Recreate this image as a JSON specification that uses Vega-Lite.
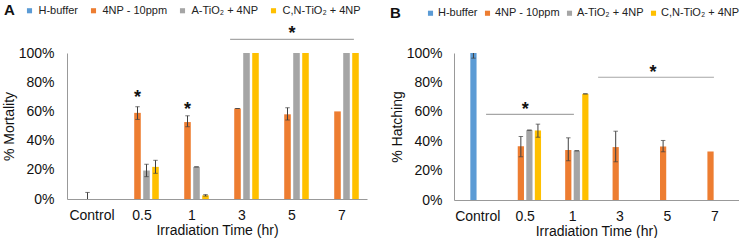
{
  "$schema": "https://vega.github.io/schema/vega-lite/v6.json",
  "padding": {"left": 2, "top": 5, "right": 0, "bottom": 0},
  "config": {
    "view": {"stroke": null},
    "font": "Liberation Sans",
    "axis": {"domainColor": "#999999", "domainWidth": 1, "ticks": false, "tickSize": 0, "grid": false, "labelOverlap": false, "labelFont": "Liberation Sans", "labelFontSize": 14, "labelColor": "#111111", "titleFont": "Liberation Sans", "titleFontSize": 14, "titleFontWeight": "normal", "titleColor": "#111111"},
    "axisY": {"labelOverlap": false},
    "legend": {"orient": "none", "direction": "horizontal", "symbolType": "square", "symbolSize": 26, "symbolStrokeWidth": 0, "labelFont": "Liberation Sans", "labelFontSize": 11, "labelColor": "#222222", "titleFont": "Liberation Sans", "titleFontSize": 15, "titleFontWeight": "bold", "titleColor": "#111111", "titleOrient": "left", "padding": 0}
  },
  "datasets": {
    "mortality": [
      {"time": "Control", "series": "H-buffer", "value": 0, "lo": 0, "hi": 0.045},
      {"time": "0.5", "series": "4NP - 10ppm", "value": 0.59, "lo": 0.545, "hi": 0.632},
      {"time": "0.5", "series": "A-TiO₂ + 4NP", "value": 0.195, "lo": 0.153, "hi": 0.238},
      {"time": "0.5", "series": "C,N-TiO₂ + 4NP", "value": 0.22, "lo": 0.176, "hi": 0.265},
      {"time": "1", "series": "4NP - 10ppm", "value": 0.527, "lo": 0.495, "hi": 0.57},
      {"time": "1", "series": "A-TiO₂ + 4NP", "value": 0.22, "lo": 0.22, "hi": 0.22},
      {"time": "1", "series": "C,N-TiO₂ + 4NP", "value": 0.025, "lo": 0.02, "hi": 0.03},
      {"time": "3", "series": "4NP - 10ppm", "value": 0.62, "lo": 0.62, "hi": 0.62},
      {"time": "3", "series": "A-TiO₂ + 4NP", "value": 1},
      {"time": "3", "series": "C,N-TiO₂ + 4NP", "value": 1},
      {"time": "5", "series": "4NP - 10ppm", "value": 0.58, "lo": 0.541, "hi": 0.625},
      {"time": "5", "series": "A-TiO₂ + 4NP", "value": 1},
      {"time": "5", "series": "C,N-TiO₂ + 4NP", "value": 1},
      {"time": "7", "series": "4NP - 10ppm", "value": 0.6},
      {"time": "7", "series": "A-TiO₂ + 4NP", "value": 1},
      {"time": "7", "series": "C,N-TiO₂ + 4NP", "value": 1}
    ],
    "hatching": [
      {"time": "Control", "series": "H-buffer", "value": 1, "lo": 0.965, "hi": 1},
      {"time": "0.5", "series": "4NP - 10ppm", "value": 0.365, "lo": 0.294, "hi": 0.432},
      {"time": "0.5", "series": "A-TiO₂ + 4NP", "value": 0.475, "lo": 0.475, "hi": 0.475},
      {"time": "0.5", "series": "C,N-TiO₂ + 4NP", "value": 0.473, "lo": 0.427, "hi": 0.516},
      {"time": "1", "series": "4NP - 10ppm", "value": 0.34, "lo": 0.267, "hi": 0.423},
      {"time": "1", "series": "A-TiO₂ + 4NP", "value": 0.335, "lo": 0.335, "hi": 0.335},
      {"time": "1", "series": "C,N-TiO₂ + 4NP", "value": 0.722, "lo": 0.722, "hi": 0.722},
      {"time": "3", "series": "4NP - 10ppm", "value": 0.36, "lo": 0.26, "hi": 0.468},
      {"time": "5", "series": "4NP - 10ppm", "value": 0.364, "lo": 0.328, "hi": 0.405},
      {"time": "7", "series": "4NP - 10ppm", "value": 0.33}
    ]
  },
  "spacing": 23,
  "resolve": {"scale": {"x": "independent", "y": "independent", "xOffset": "independent", "color": "shared"}, "legend": {"color": "independent"}},
  "hconcat": [
    {
      "width": 300,
      "height": 146,
      "data": {"name": "mortality"},
      "encoding": {
        "x": {"field": "time", "type": "nominal", "title": "Irradiation Time (hr)", "scale": {"domain": ["Control", "0.5", "1", "3", "5", "7"], "paddingInner": 0.28, "paddingOuter": 0.14}, "axis": {"labelAngle": 0, "labelPadding": 9, "titlePadding": 1}}
      },
      "layer": [
        {
          "transform": [{"filter": "datum.series !== 'H-buffer'"}],
          "encoding": {"xOffset": {"field": "series", "type": "nominal", "scale": {"domain": ["H-buffer", "4NP - 10ppm", "A-TiO₂ + 4NP", "C,N-TiO₂ + 4NP"], "paddingInner": 0.27, "paddingOuter": 0.135}}},
          "layer": [
            {"mark": {"type": "bar"}, "encoding": {
              "y": {"field": "value", "type": "quantitative", "title": "% Mortality", "scale": {"domain": [0, 1], "nice": false}, "axis": {"format": ".0%", "values": [0, 0.2, 0.4, 0.6, 0.8, 1], "labelOverlap": false, "labelPadding": 13, "titlePadding": 2}},
              "color": {"field": "series", "type": "nominal", "scale": {"domain": ["H-buffer", "4NP - 10ppm", "A-TiO₂ + 4NP", "C,N-TiO₂ + 4NP"], "range": ["#5B9BD5", "#ED7D31", "#A5A5A5", "#FFC000"]}, "legend": {"title": "A", "legendX": -63, "legendY": -48, "columnPadding": 9, "titlePadding": 9, "labelOffset": 3.5}}}},
            {"mark": {"type": "rule", "color": "#404040", "strokeWidth": 1}, "encoding": {"y": {"field": "lo", "type": "quantitative", "title": "% Mortality", "scale": {"domain": [0, 1], "nice": false}, "axis": {"format": ".0%", "values": [0, 0.2, 0.4, 0.6, 0.8, 1], "labelOverlap": false, "labelPadding": 13, "titlePadding": 2}}, "y2": {"field": "hi"}}},
            {"mark": {"type": "tick", "color": "#404040", "thickness": 1, "size": 4.5}, "encoding": {"y": {"field": "hi", "type": "quantitative", "title": "% Mortality", "scale": {"domain": [0, 1], "nice": false}, "axis": {"format": ".0%", "values": [0, 0.2, 0.4, 0.6, 0.8, 1], "labelOverlap": false, "labelPadding": 13, "titlePadding": 2}}}},
            {"mark": {"type": "tick", "color": "#404040", "thickness": 1, "size": 4.5}, "encoding": {"y": {"field": "lo", "type": "quantitative", "title": "% Mortality", "scale": {"domain": [0, 1], "nice": false}, "axis": {"format": ".0%", "values": [0, 0.2, 0.4, 0.6, 0.8, 1], "labelOverlap": false, "labelPadding": 13, "titlePadding": 2}}}}
          ]
        },
        {
          "transform": [{"filter": "datum.series === 'H-buffer'"}],
          "encoding": {"xOffset": {"datum": "4NP - 10ppm"}},
          "layer": [
            {"mark": {"type": "bar"}, "encoding": {
              "y": {"field": "value", "type": "quantitative", "title": "% Mortality", "scale": {"domain": [0, 1], "nice": false}, "axis": {"format": ".0%", "values": [0, 0.2, 0.4, 0.6, 0.8, 1], "labelOverlap": false, "labelPadding": 13, "titlePadding": 2}},
              "color": {"field": "series", "type": "nominal", "scale": {"domain": ["H-buffer", "4NP - 10ppm", "A-TiO₂ + 4NP", "C,N-TiO₂ + 4NP"], "range": ["#5B9BD5", "#ED7D31", "#A5A5A5", "#FFC000"]}, "legend": {"title": "A", "legendX": -63, "legendY": -48, "columnPadding": 9, "titlePadding": 9, "labelOffset": 3.5}}}},
            {"mark": {"type": "rule", "color": "#404040", "strokeWidth": 1}, "encoding": {"y": {"field": "lo", "type": "quantitative", "title": "% Mortality", "scale": {"domain": [0, 1], "nice": false}, "axis": {"format": ".0%", "values": [0, 0.2, 0.4, 0.6, 0.8, 1], "labelOverlap": false, "labelPadding": 13, "titlePadding": 2}}, "y2": {"field": "hi"}}},
            {"mark": {"type": "tick", "color": "#404040", "thickness": 1, "size": 4.5}, "encoding": {"y": {"field": "hi", "type": "quantitative", "title": "% Mortality", "scale": {"domain": [0, 1], "nice": false}, "axis": {"format": ".0%", "values": [0, 0.2, 0.4, 0.6, 0.8, 1], "labelOverlap": false, "labelPadding": 13, "titlePadding": 2}}}}
          ]
        },
        {
          "data": {"values": [{"time": "0.5", "series": "4NP - 10ppm", "y": 0.66, "label": "*"}, {"time": "1", "series": "4NP - 10ppm", "y": 0.578, "label": "*"}]},
          "mark": {"type": "text", "fontSize": 18, "fontWeight": "bold", "baseline": "alphabetic", "color": "#111111"},
          "encoding": {
            "xOffset": {"field": "series", "type": "nominal", "scale": {"domain": ["H-buffer", "4NP - 10ppm", "A-TiO₂ + 4NP", "C,N-TiO₂ + 4NP"]}},
            "y": {"field": "y", "type": "quantitative", "title": "% Mortality", "scale": {"domain": [0, 1], "nice": false}, "axis": {"format": ".0%", "values": [0, 0.2, 0.4, 0.6, 0.8, 1], "labelOverlap": false, "labelPadding": 13, "titlePadding": 2}},
            "text": {"field": "label"}
          }
        },
        {
          "data": {"values": [{"time": "5", "y": 1.099, "label": "*"}]},
          "mark": {"type": "text", "fontSize": 18, "fontWeight": "bold", "baseline": "alphabetic", "color": "#111111"},
          "encoding": {
            "y": {"field": "y", "type": "quantitative", "title": "% Mortality", "scale": {"domain": [0, 1], "nice": false}, "axis": {"format": ".0%", "values": [0, 0.2, 0.4, 0.6, 0.8, 1], "labelOverlap": false, "labelPadding": 13, "titlePadding": 2}},
            "text": {"field": "label"}
          }
        },
        {
          "data": {"values": [{"from": "3", "to": "7", "y": 1.094}]},
          "mark": {"type": "rule", "color": "#A6A6A6", "strokeWidth": 1.2},
          "encoding": {
            "x": {"field": "from", "type": "nominal", "title": "Irradiation Time (hr)", "bandPosition": 0.17, "scale": {"domain": ["Control", "0.5", "1", "3", "5", "7"]}, "axis": {"labelAngle": 0, "labelPadding": 9, "titlePadding": 1}},
            "x2": {"field": "to", "bandPosition": 0.83},
            "y": {"field": "y", "type": "quantitative", "title": "% Mortality", "scale": {"domain": [0, 1], "nice": false}, "axis": {"format": ".0%", "values": [0, 0.2, 0.4, 0.6, 0.8, 1], "labelOverlap": false, "labelPadding": 13, "titlePadding": 2}}
          }
        }
      ]
    },
    {
      "width": 284.5,
      "height": 147,
      "data": {"name": "hatching"},
      "encoding": {
        "x": {"field": "time", "type": "nominal", "title": "Irradiation Time (hr)", "scale": {"domain": ["Control", "0.5", "1", "3", "5", "7"], "paddingInner": 0.28, "paddingOuter": 0.14}, "axis": {"labelAngle": 0, "labelPadding": 9, "titlePadding": 1}}
      },
      "layer": [
        {
          "transform": [{"filter": "datum.series !== 'H-buffer'"}],
          "encoding": {"xOffset": {"field": "series", "type": "nominal", "scale": {"domain": ["H-buffer", "4NP - 10ppm", "A-TiO₂ + 4NP", "C,N-TiO₂ + 4NP"], "paddingInner": 0.27, "paddingOuter": 0.135}}},
          "layer": [
            {"mark": {"type": "bar"}, "encoding": {
              "y": {"field": "value", "type": "quantitative", "title": "% Hatching", "scale": {"domain": [0, 1], "nice": false}, "axis": {"format": ".0%", "values": [0, 0.2, 0.4, 0.6, 0.8, 1], "labelOverlap": false, "labelPadding": 12, "titlePadding": 2}},
              "color": {"field": "series", "type": "nominal", "scale": {"domain": ["H-buffer", "4NP - 10ppm", "A-TiO₂ + 4NP", "C,N-TiO₂ + 4NP"], "range": ["#5B9BD5", "#ED7D31", "#A5A5A5", "#FFC000"]}, "legend": {"title": "B", "legendX": -64, "legendY": -45.5, "columnPadding": 4, "titlePadding": 24, "labelOffset": 2}}}},
            {"mark": {"type": "rule", "color": "#404040", "strokeWidth": 1}, "encoding": {"y": {"field": "lo", "type": "quantitative", "title": "% Hatching", "scale": {"domain": [0, 1], "nice": false}, "axis": {"format": ".0%", "values": [0, 0.2, 0.4, 0.6, 0.8, 1], "labelOverlap": false, "labelPadding": 12, "titlePadding": 2}}, "y2": {"field": "hi"}}},
            {"mark": {"type": "tick", "color": "#404040", "thickness": 1, "size": 4.5}, "encoding": {"y": {"field": "hi", "type": "quantitative", "title": "% Hatching", "scale": {"domain": [0, 1], "nice": false}, "axis": {"format": ".0%", "values": [0, 0.2, 0.4, 0.6, 0.8, 1], "labelOverlap": false, "labelPadding": 12, "titlePadding": 2}}}},
            {"mark": {"type": "tick", "color": "#404040", "thickness": 1, "size": 4.5}, "encoding": {"y": {"field": "lo", "type": "quantitative", "title": "% Hatching", "scale": {"domain": [0, 1], "nice": false}, "axis": {"format": ".0%", "values": [0, 0.2, 0.4, 0.6, 0.8, 1], "labelOverlap": false, "labelPadding": 12, "titlePadding": 2}}}}
          ]
        },
        {
          "transform": [{"filter": "datum.series === 'H-buffer'"}],
          "encoding": {"xOffset": {"datum": "4NP - 10ppm"}},
          "layer": [
            {"mark": {"type": "bar"}, "encoding": {
              "y": {"field": "value", "type": "quantitative", "title": "% Hatching", "scale": {"domain": [0, 1], "nice": false}, "axis": {"format": ".0%", "values": [0, 0.2, 0.4, 0.6, 0.8, 1], "labelOverlap": false, "labelPadding": 12, "titlePadding": 2}},
              "color": {"field": "series", "type": "nominal", "scale": {"domain": ["H-buffer", "4NP - 10ppm", "A-TiO₂ + 4NP", "C,N-TiO₂ + 4NP"], "range": ["#5B9BD5", "#ED7D31", "#A5A5A5", "#FFC000"]}, "legend": {"title": "B", "legendX": -64, "legendY": -45.5, "columnPadding": 4, "titlePadding": 24, "labelOffset": 2}}}},
            {"mark": {"type": "rule", "color": "#404040", "strokeWidth": 1}, "encoding": {"y": {"field": "lo", "type": "quantitative", "title": "% Hatching", "scale": {"domain": [0, 1], "nice": false}, "axis": {"format": ".0%", "values": [0, 0.2, 0.4, 0.6, 0.8, 1], "labelOverlap": false, "labelPadding": 12, "titlePadding": 2}}, "y2": {"field": "hi"}}},
            {"mark": {"type": "tick", "color": "#404040", "thickness": 1, "size": 4.5}, "encoding": {"y": {"field": "lo", "type": "quantitative", "title": "% Hatching", "scale": {"domain": [0, 1], "nice": false}, "axis": {"format": ".0%", "values": [0, 0.2, 0.4, 0.6, 0.8, 1], "labelOverlap": false, "labelPadding": 12, "titlePadding": 2}}}}
          ]
        },
        {
          "data": {"values": [{"time": "0.5", "y": 0.578, "label": "*"}]},
          "mark": {"type": "text", "fontSize": 18, "fontWeight": "bold", "baseline": "alphabetic", "color": "#111111"},
          "encoding": {
            "y": {"field": "y", "type": "quantitative", "title": "% Hatching", "scale": {"domain": [0, 1], "nice": false}, "axis": {"format": ".0%", "values": [0, 0.2, 0.4, 0.6, 0.8, 1], "labelOverlap": false, "labelPadding": 12, "titlePadding": 2}},
            "text": {"field": "label"}
          }
        },
        {
          "data": {"values": [{"time": "5", "y": 0.829, "label": "*"}]},
          "mark": {"type": "text", "fontSize": 18, "fontWeight": "bold", "baseline": "alphabetic", "color": "#111111"},
          "encoding": {
            "x": {"field": "time", "type": "nominal", "title": "Irradiation Time (hr)", "bandPosition": 0.08, "scale": {"domain": ["Control", "0.5", "1", "3", "5", "7"]}, "axis": {"labelAngle": 0, "labelPadding": 9, "titlePadding": 1}},
            "y": {"field": "y", "type": "quantitative", "title": "% Hatching", "scale": {"domain": [0, 1], "nice": false}, "axis": {"format": ".0%", "values": [0, 0.2, 0.4, 0.6, 0.8, 1], "labelOverlap": false, "labelPadding": 12, "titlePadding": 2}},
            "text": {"field": "label"}
          }
        },
        {
          "data": {"values": [{"from": "Control", "to": "1", "y": 0.582}]},
          "mark": {"type": "rule", "color": "#A6A6A6", "strokeWidth": 1.2},
          "encoding": {
            "x": {"field": "from", "type": "nominal", "title": "Irradiation Time (hr)", "bandPosition": 0.745, "scale": {"domain": ["Control", "0.5", "1", "3", "5", "7"]}, "axis": {"labelAngle": 0, "labelPadding": 9, "titlePadding": 1}},
            "x2": {"field": "to", "bandPosition": 0.54},
            "y": {"field": "y", "type": "quantitative", "title": "% Hatching", "scale": {"domain": [0, 1], "nice": false}, "axis": {"format": ".0%", "values": [0, 0.2, 0.4, 0.6, 0.8, 1], "labelOverlap": false, "labelPadding": 12, "titlePadding": 2}}
          }
        },
        {
          "data": {"values": [{"from": "3", "to": "7", "y": 0.835}]},
          "mark": {"type": "rule", "color": "#A6A6A6", "strokeWidth": 1.2},
          "encoding": {
            "x": {"field": "from", "type": "nominal", "title": "Irradiation Time (hr)", "bandPosition": -0.14, "scale": {"domain": ["Control", "0.5", "1", "3", "5", "7"]}, "axis": {"labelAngle": 0, "labelPadding": 9, "titlePadding": 1}},
            "x2": {"field": "to", "bandPosition": 0.475},
            "y": {"field": "y", "type": "quantitative", "title": "% Hatching", "scale": {"domain": [0, 1], "nice": false}, "axis": {"format": ".0%", "values": [0, 0.2, 0.4, 0.6, 0.8, 1], "labelOverlap": false, "labelPadding": 12, "titlePadding": 2}}
          }
        }
      ]
    }
  ]
}
